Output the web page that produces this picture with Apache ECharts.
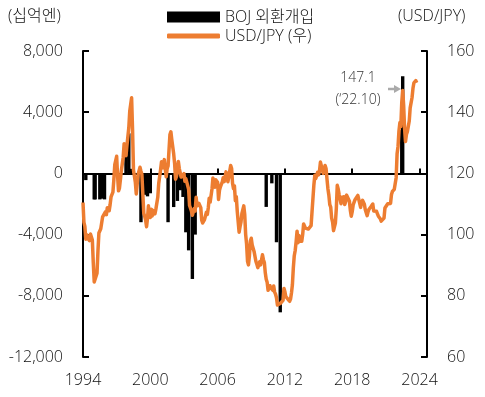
<!DOCTYPE html>
<html>
<head>
<meta charset="utf-8">
<script src="https://cdn.jsdelivr.net/npm/echarts@6/dist/echarts.min.js"></script>
<style>
html, body { margin: 0; padding: 0; background: #fff; }
#main { width: 485px; height: 397px; }
</style>
</head>
<body>
<div id="main"></div>
<script>
// 월별 카테고리 (1994.01 ~ 2024.09)
var months = [];
for (var y = 1994; y <= 2024; y++) {
	for (var m = 1; m <= 12; m++) {
		if (months.length < 369) months.push(y + '.' + (m < 10 ? '0' + m : m));
	}
}
var yearTicks = ['1994', '2000', '2006', '2012', '2018', '2024'];
var leftTicks = [-12000, -8000, -4000, 0, 4000, 8000];
var rightTicks = [60, 80, 100, 120, 140, 160];

// USD/JPY (우축), 월별
var usdJpy = [
	110.5, 104.0, 102.7, 98.5, 100.0, 98.8, 98.4, 98.0, 100.2,
	99.8, 98.2, 90.8, 84.5, 85.1, 84.6, 87.4, 94.7, 100.5, 100.8, 101.9, 101.9,
	105.8, 105.7, 105.9, 107.4, 106.5, 108.8, 109.2, 107.8, 109.8, 112.3, 112.3, 113.9,
	117.9, 122.9, 122.7, 125.6, 119.2, 114.3, 115.2, 117.9, 120.9, 121.1, 125.3, 129.7,
	129.5, 125.8, 129.1, 132.0, 134.9, 140.3, 140.6, 144.7, 134.5, 121.1, 120.8, 117.1,
	113.3, 116.7, 119.7, 119.7, 122.0, 120.7, 119.7, 113.3, 107.0, 106.0, 104.7, 102.6,
	105.3, 109.4, 106.3, 105.6, 108.3, 106.1, 107.9, 108.0, 106.8, 108.4, 108.9, 112.2,
	116.7, 116.1, 121.2, 123.8, 121.8, 122.2, 124.5, 121.5, 118.9, 121.5, 122.4, 127.6,
	132.7, 133.6, 131.0, 130.8, 126.4, 123.3, 118.1, 119.0, 121.1, 123.9, 121.6, 121.9,
	118.8, 119.3, 118.7, 119.9, 117.4, 118.3, 118.7, 118.7, 114.8, 109.5, 109.2, 107.7,
	106.3, 106.7, 108.5, 107.7, 112.2, 109.4, 109.4, 110.2, 110.0, 108.8, 104.7, 103.8,
	103.3, 104.9, 105.3, 107.3, 106.6, 108.7, 111.9, 110.6, 111.2, 114.9, 118.5, 118.5,
	115.5, 117.9, 117.3, 117.1, 111.5, 114.5, 115.6, 115.9, 117.2, 118.6, 117.3, 117.3,
	120.5, 120.5, 117.3, 118.8, 120.8, 122.6, 121.6, 116.7, 115.0, 115.9, 111.1, 112.4,
	107.7, 107.1, 100.8, 102.6, 104.1, 106.9, 106.9, 109.4, 106.6, 100.1, 96.9, 91.3,
	90.1, 92.9, 97.9, 98.8, 96.6, 96.6, 94.5, 94.9, 91.2, 90.3, 89.2, 89.5,
	91.1, 90.1, 90.7, 93.4, 91.8, 90.9, 87.5, 85.4, 84.4, 81.8, 82.5, 83.3,
	82.6, 82.5, 81.8, 83.2, 81.2, 80.5, 79.3, 77.0, 76.8, 76.7, 77.5, 77.8,
	76.9, 78.5, 82.4, 81.3, 79.7, 79.3, 79.0, 78.7, 78.2, 78.9, 80.9, 83.6,
	89.1, 93.1, 94.8, 97.7, 101.1, 97.3, 99.7, 97.8, 99.2, 97.8, 100.0, 103.5,
	103.9, 102.1, 102.3, 102.6, 101.8, 102.1, 101.8, 102.9, 107.4, 108.0, 116.3, 119.4,
	118.3, 118.8, 120.4, 119.5, 120.8, 123.7, 123.3, 123.1, 120.0, 120.1, 122.6, 121.6,
	118.2, 115.0, 112.9, 109.8, 109.0, 105.4, 104.1, 101.3, 101.9, 103.8, 108.6, 116.1,
	114.9, 113.1, 112.9, 110.1, 112.2, 110.9, 112.4, 109.8, 110.8, 112.9, 112.8, 112.9,
	110.9, 107.9, 106.0, 107.5, 109.7, 110.1, 111.4, 111.0, 111.9, 112.8, 113.3, 112.2,
	108.9, 110.5, 111.2, 111.6, 109.9, 108.1, 108.2, 106.2, 107.5, 108.3, 108.9, 109.1,
	109.3, 110.0, 107.7, 107.8, 107.2, 107.6, 106.8, 106.0, 105.6, 105.2, 104.4, 103.8,
	103.8, 105.4, 108.7, 109.1, 109.1, 110.1, 110.3, 109.8, 110.2, 113.1, 114.1, 113.9,
	114.8, 115.2, 118.6, 126.4, 128.8, 133.9, 136.6, 135.3, 143.2, 147.1, 142.4, 134.8,
	130.4, 132.7, 133.6, 133.4, 137.1, 141.4, 141.0, 144.8, 147.8, 149.6, 149.8, 150.3, 149.6
];

// BOJ 외환개입 (십억엔), [월, 금액]
var boj = [
	['1994.04', -440],
	['1995.01', -1700], ['1995.02', -1700], ['1995.07', -1700], ['1995.09', -1650], ['1995.12', -1700],
	['1997.11', 1100], ['1998.02', 2620], ['1998.04', 300],
	['1999.03', -3190], ['1999.07', -1400], ['1999.10', -1500], ['2000.01', -1300],
	['2001.08', -3190], ['2002.02', -2200], ['2002.06', -1800], ['2002.09', -1100],
	['2002.12', -1540], ['2003.03', -3850], ['2003.06', -5030], ['2003.10', -6900], ['2004.01', -4000],
	['2010.05', -2190], ['2010.11', -650], ['2011.04', -4500], ['2011.08', -9080],
	['2022.06', 2840], ['2022.07', 6350]
];

var bojData = months.map(function() { return null; });
boj.forEach(function(d) {
	bojData[months.indexOf(d[0])] = d[1];
});

var FONT = "'Open Sans', 'Noto Sans CJK KR', sans-serif";
var W = 300;
var showTick = function(i) { return i % 72 === 0; };

var chart = echarts.init(document.getElementById('main'));

var option = {
	animation: false,
	grid: { left: 83, right: 58, top: 51, bottom: 40 },
	legend: [{
		data: [{ name: 'BOJ 외환개입', icon: 'rect' }],
		left: 167, top: 9, padding: 0,
		itemWidth: 53, itemHeight: 11,
		textStyle: { fontSize: 16, color: '#111', fontFamily: FONT, fontWeight: W }
	}, {
		data: [{ name: 'USD/JPY (우)', icon: 'roundRect' }],
		left: 167, top: 28, padding: 0,
		itemWidth: 53, itemHeight: 5,
		textStyle: { fontSize: 16, color: '#111', fontFamily: FONT, fontWeight: W }
	}],
	xAxis: [{
		type: 'category',
		data: months,
		boundaryGap: false,
		position: 'bottom',
		axisLine: { show: false, onZero: false },
		axisTick: { show: false },
		axisLabel: {
			interval: showTick,
			margin: 15,
			fontSize: 16,
			color: '#111',
			fontFamily: FONT,
			fontWeight: W,
			formatter: function(v) { return v.slice(0, 4); }
		}
	}, {
		type: 'category',
		data: months,
		boundaryGap: false,
		position: 'top',
		axisLine: { show: true, onZero: true, lineStyle: { color: '#000', width: 2 } },
		axisTick: { show: true, interval: showTick, length: 5, lineStyle: { color: '#000', width: 2 } },
		axisLabel: { show: false }
	}],
	yAxis: [{
		type: 'value',
		min: -12000, max: 8000, interval: 4000,
		axisLine: { show: true, onZero: false, lineStyle: { color: '#000', width: 2 } },
		axisTick: { show: true, inside: true, length: 6, lineStyle: { color: '#000', width: 2 } },
		splitLine: { show: false },
		axisLabel: {
			margin: 20,
			fontSize: 16,
			color: '#111',
			fontFamily: FONT,
			fontWeight: W,
			formatter: function(v) { return v.toLocaleString('en-US'); }
		}
	}, {
		type: 'value',
		min: 60, max: 160, interval: 20,
		position: 'right',
		axisLine: { show: true, onZero: false, lineStyle: { color: '#000', width: 2 } },
		axisTick: { show: true, inside: true, length: 6, lineStyle: { color: '#000', width: 2 } },
		splitLine: { show: false },
		axisLabel: { margin: 20, fontSize: 16, color: '#111', fontFamily: FONT, fontWeight: W }
	}],
	series: [{
		name: 'BOJ 외환개입',
		type: 'bar',
		xAxisIndex: 0,
		yAxisIndex: 0,
		data: bojData,
		barWidth: 3.4,
		barGap: '-100%',
		itemStyle: { color: '#000' }
	}, {
		name: 'USD/JPY (우)',
		type: 'line',
		xAxisIndex: 0,
		yAxisIndex: 1,
		data: usdJpy,
		symbol: 'none',
		lineStyle: { color: '#ED7D31', width: 3.5, join: 'round' },
		itemStyle: { color: '#ED7D31' }
	}],
	graphic: [{
		type: 'text', left: 8, top: 8,
		style: { text: '(십억엔)', fontSize: 16, fill: '#111', fontFamily: FONT, fontWeight: W }
	}, {
		type: 'text', left: 398, top: 8,
		style: { text: '(USD/JPY)', fontSize: 16, fill: '#111', fontFamily: FONT, fontWeight: W }
	}, {
		type: 'text', x: 358, y: 78,
		style: { text: '147.1', fontSize: 14, fill: '#333', fontFamily: FONT, fontWeight: W, align: 'center', verticalAlign: 'middle' }
	}, {
		type: 'text', x: 358, y: 100,
		style: { text: '(‘22.10)', fontSize: 14, fill: '#333', fontFamily: FONT, fontWeight: W, align: 'center', verticalAlign: 'middle' }
	}, {
		type: 'line',
		shape: { x1: 388, y1: 89, x2: 396, y2: 89 },
		style: { stroke: '#aaa', lineWidth: 2.5 }
	}, {
		type: 'polygon',
		shape: { points: [[394, 85], [401, 89], [394, 93]] },
		style: { fill: '#aaa' }
	}]
};

chart.setOption(option);
</script>
</body>
</html>
